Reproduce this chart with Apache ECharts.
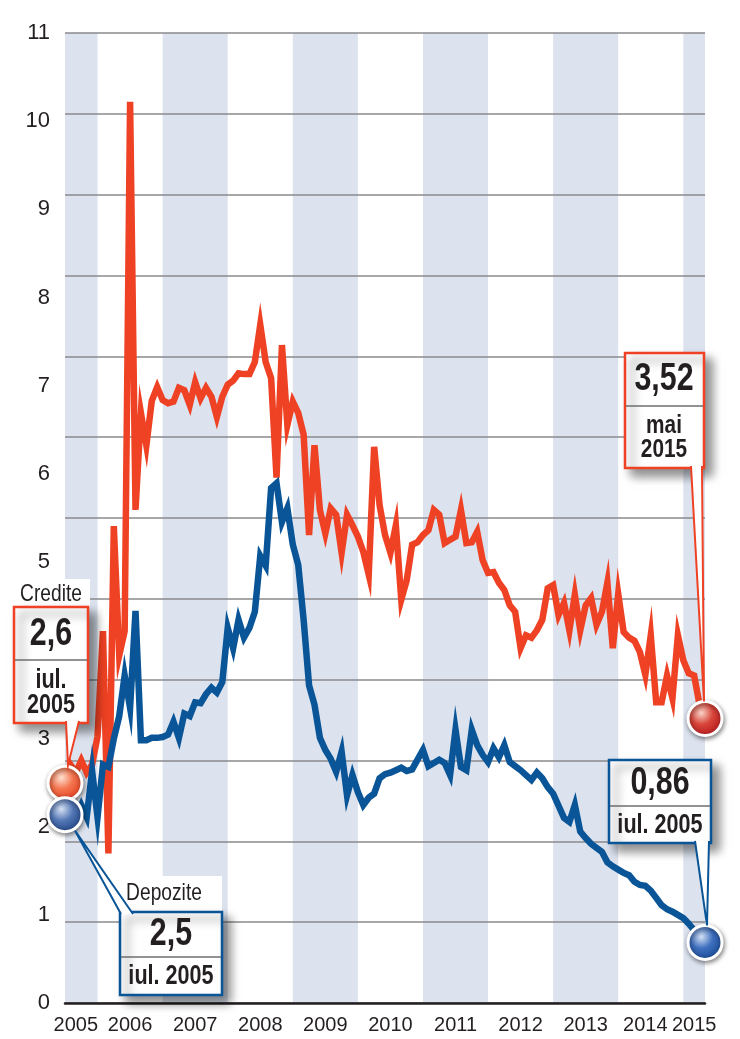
<!DOCTYPE html>
<html>
<head>
<meta charset="utf-8">
<script src="https://cdn.jsdelivr.net/npm/echarts/dist/echarts.min.js"></script>
<style>
  html, body { margin: 0; padding: 0; background: #fff; }
  #main { width: 740px; height: 1039px; }
</style>
</head>
<body>
<div id="main"></div>
<script>
// luni: iul. 2005 - mai 2015
const months = [];
for (let y = 2005, m = 7; y < 2015 || (y === 2015 && m <= 5);) {
  months.push(y + '-' + String(m).padStart(2, '0'));
  m++;
  if (m > 12) { m = 1; y++; }
}

const credite = [
  2.72, 2.95, 2.85, 3.0, 2.85, 2.95, 3.3, 4.6, 1.85, 5.9, 4.3, 4.6, 11.15, 6.1, 7.3, 6.9, 7.45, 7.62,
  7.46, 7.42, 7.44, 7.61, 7.58, 7.40, 7.68, 7.48, 7.61, 7.50, 7.25, 7.50, 7.65, 7.70, 7.79, 7.78,
  7.78, 7.93, 8.39, 7.93, 7.73, 6.50, 8.14, 7.15, 7.44, 7.30, 7.03, 5.79, 6.90, 6.10, 5.81, 6.12,
  6.04, 5.57, 6.04, 5.91, 5.77, 5.58, 5.30, 6.88, 6.16, 5.79, 5.57, 5.91, 4.99, 5.23, 5.67, 5.70,
  5.79, 5.85, 6.10, 6.04, 5.69, 5.73, 5.77, 6.10, 5.69, 5.70, 5.83, 5.48, 5.32, 5.33,
  5.20, 5.11, 4.92, 4.84, 4.39, 4.55, 4.52, 4.61, 4.74, 5.13, 5.17, 4.80, 4.95, 4.61, 5.05, 4.61,
  4.92, 5.01, 4.68, 4.84, 5.20, 4.39, 5.06, 4.59, 4.52, 4.48, 4.34, 4.06, 4.55, 3.72, 3.72, 4.05,
  3.77, 4.55, 4.24, 4.08, 4.05, 3.69, 3.52
];

const depozite = [
  2.33, 2.45, 2.3, 2.45, 2.3, 2.87, 2.3, 2.95, 2.92, 3.27, 3.55, 4.05, 3.65, 4.85, 3.25, 3.25, 3.28, 3.28,
  3.29, 3.32, 3.48, 3.28, 3.58, 3.55, 3.72, 3.71, 3.82, 3.90, 3.84, 3.97, 4.64, 4.39, 4.74, 4.52,
  4.64, 4.84, 5.53, 5.41, 6.37, 6.43, 5.95, 6.12, 5.67, 5.42, 4.74, 3.93, 3.69, 3.28, 3.13, 3.02,
  2.86, 3.11, 2.57, 2.82, 2.61, 2.45, 2.54, 2.59, 2.78, 2.83, 2.85, 2.88, 2.91, 2.87, 2.89, 3.01,
  3.13, 2.93, 2.97, 3.01, 2.97, 2.82, 3.38, 2.92, 2.88, 3.38, 3.19, 3.07, 2.98, 3.15,
  3.04, 3.19, 2.98, 2.93, 2.88, 2.82, 2.76, 2.85, 2.78, 2.67, 2.59, 2.44, 2.29, 2.24, 2.45, 2.12,
  2.04, 1.97, 1.92, 1.87, 1.74, 1.69, 1.65, 1.61, 1.58, 1.50, 1.46, 1.45, 1.39, 1.30, 1.21, 1.16,
  1.13, 1.09, 1.05, 0.98, 0.90, 0.82, 0.75
];

// ani hasurati (benzi gri-albastrui)
const shadedYears = [2005, 2007, 2009, 2011, 2013, 2015];
// luna la care apare eticheta fiecarui an
const yearLabelMonths = ['2005-09', '2006-07', '2007-07', '2008-07', '2009-07', '2010-07',
  '2011-07', '2012-07', '2013-07', '2014-06', '2015-03'];
const yLabels = [0, 1, 2, 3, 4, 5, 6, 7, 8, 9, 10, 11];

const RED = '#ef4123';
const BLUE = '#0a5597';
const FONT = "'Liberation Sans', Arial, sans-serif";
const last = months.length - 1;

function clampMonth(s) {
  if (s < months[0]) return months[0];
  if (s > months[last]) return months[last];
  return s;
}
const bands = shadedYears.map(y => [
  { xAxis: clampMonth(y + '-01') },
  { xAxis: clampMonth((y + 1) + '-01') }
]);

function ball(light, mid, dark) {
  return {
    type: 'radial', x: 0.4, y: 0.35, r: 0.7,
    colorStops: [{ offset: 0, color: light }, { offset: 0.45, color: mid }, { offset: 1, color: dark }]
  };
}
const ballStyle = (c) => ({
  color: c, borderColor: '#fff', borderWidth: 3,
  shadowBlur: 5, shadowColor: 'rgba(0,0,0,0.45)', shadowOffsetX: 1, shadowOffsetY: 2
});

let myChart = echarts.init(document.getElementById('main'));
myChart.setOption({
  animation: false,
  grid: { left: 65, right: 35, top: 33, bottom: 36 },
  xAxis: {
    type: 'category',
    data: months,
    boundaryGap: false,
    z: 1.5,
    axisLine: { lineStyle: { color: '#231f20', width: 2.5 } },
    axisTick: { show: false },
    splitLine: { show: false },
    axisLabel: {
      interval: (idx, val) => yearLabelMonths.indexOf(val) >= 0,
      formatter: v => v.slice(0, 4),
      hideOverlap: false, showMinLabel: true, showMaxLabel: true,
      color: '#231f20', fontSize: 20, fontFamily: FONT, margin: 12
    }
  },
  yAxis: [
    {
      type: 'value', min: 0, max: 12, interval: 1, z: 1.5,
      axisLine: { show: false }, axisTick: { show: false }, axisLabel: { show: false },
      splitLine: { lineStyle: { color: '#8a8a8c', width: 1.6 } }
    },
    {
      type: 'value', min: 0, max: yLabels[yLabels.length - 1], interval: 1, position: 'left', z: 1.5,
      axisLine: { show: false }, axisTick: { show: false }, splitLine: { show: false },
      axisLabel: { color: '#231f20', fontSize: 22, fontFamily: FONT, margin: 15 }
    }
  ],
  series: [
    {
      name: 'Credite', type: 'line', data: credite, yAxisIndex: 0,
      showSymbol: false, symbol: 'none',
      lineStyle: { color: RED, width: 6.5, join: 'miter' },
      markArea: { silent: true, z: 1, itemStyle: { color: '#dce3ef' }, data: bands },
      markPoint: {
        silent: true, symbol: 'circle', symbolSize: 34, label: { show: false },
        data: [
          { coord: [months[0], credite[0]], itemStyle: ballStyle(ball('#fde0d0', '#f4754f', '#e2391c')) },
          { coord: [months[last], credite[last]], itemStyle: ballStyle(ball('#f9d3c8', '#d8453a', '#b3141b')) }
        ]
      }
    },
    {
      name: 'Depozite', type: 'line', data: depozite, yAxisIndex: 0,
      showSymbol: false, symbol: 'none',
      lineStyle: { color: BLUE, width: 6.5, join: 'miter' },
      markPoint: {
        silent: true, symbol: 'circle', symbolSize: 34, label: { show: false },
        data: [
          { coord: [months[0], depozite[0]], itemStyle: ballStyle(ball('#d6e1f2', '#5478b6', '#1c3f80')) },
          { coord: [months[last], depozite[last]], itemStyle: ballStyle(ball('#d3e0f3', '#3d6fbe', '#16468f')) }
        ]
      }
    }
  ]
});

// casetele cu valori
const px = (i, arr) => myChart.convertToPixel({ xAxisIndex: 0, yAxisIndex: 0 }, [months[i], arr[i]]);
const cS = px(0, credite), dS = px(0, depozite), cE = px(last, credite), dE = px(last, depozite);

const Z = 100;
const shadow = { shadowBlur: 10, shadowOffsetX: 7, shadowOffsetY: 7, shadowColor: 'rgba(0,0,0,0.45)' };
// text ingustat (font condensat)
function txt(t, x, y, size, bold) {
  return {
    type: 'text', z: Z + 3, x: x, y: y, scaleX: 0.8,
    style: {
      text: t, x: 0, y: 0, fill: '#231f20', align: 'center', verticalAlign: 'middle',
      font: (bold ? 'bold ' : '') + size + 'px ' + FONT
    }
  };
}
function box(x, y, w, h, divY, color) {
  return [
    { type: 'rect', z: Z, shape: { x: x, y: y, width: w, height: h },
      style: Object.assign({ fill: '#fff', stroke: color, lineWidth: 2.5 }, shadow) },
    { type: 'line', z: Z + 1, shape: { x1: x + 1, y1: divY, x2: x + w - 1, y2: divY },
      style: { stroke: '#6d6e71', lineWidth: 1.5 } }
  ];
}
function pointer(a, b, tip, color) {
  return [
    { type: 'polygon', z: Z + 2, shape: { points: [a, b, tip] }, style: { fill: '#fff' } },
    { type: 'polyline', z: Z + 2, shape: { points: [a, tip, b] },
      style: { stroke: color, lineWidth: 2, fill: null } }
  ];
}

const g = [];
// Credite, stanga
g.push({ type: 'rect', z: Z, shape: { x: 15, y: 579, width: 75, height: 28 }, style: { fill: '#fff' } });
g.push(txt('Credite', 51, 594, 24, false));
g.push(...box(14, 607, 74, 116, 660, RED));
g.push(...pointer([66, 721], [79, 721], [cS[0] + 3, cS[1] - 18], RED));
g.push(txt('2,6', 51, 635, 38, true), txt('iul.', 51, 681, 27, true), txt('2005', 51, 706, 27, true));

// Depozite, stanga
g.push({ type: 'rect', z: Z, shape: { x: 123, y: 876, width: 99, height: 36 }, style: { fill: '#fff' } });
g.push(txt('Depozite', 164, 893, 24, false));
g.push(...box(120, 912, 102, 83, 957, BLUE));
g.push(...pointer([121, 914], [133, 914], [dS[0] + 10, dS[1] + 16], BLUE));
g.push(txt('2,5', 171, 935, 38, true), txt('iul. 2005', 171, 977, 27, true));

// Credite, dreapta
g.push(...box(625, 353, 79, 115, 406, RED));
g.push(...pointer([691, 466], [702, 466], [cE[0] - 1, cE[1] - 17], RED));
g.push(txt('3,52', 664, 380, 38, true), txt('mai', 664, 426, 26, true), txt('2015', 664, 450, 26, true));

// Depozite, dreapta
g.push(...box(609, 760, 102, 83, 806, BLUE));
g.push(...pointer([695, 841], [709, 841], [dE[0] + 2, dE[1] - 17], BLUE));
g.push(txt('0,86', 660, 784, 38, true), txt('iul. 2005', 660, 826, 27, true));

myChart.setOption({ graphic: g });
</script>
</body>
</html>
